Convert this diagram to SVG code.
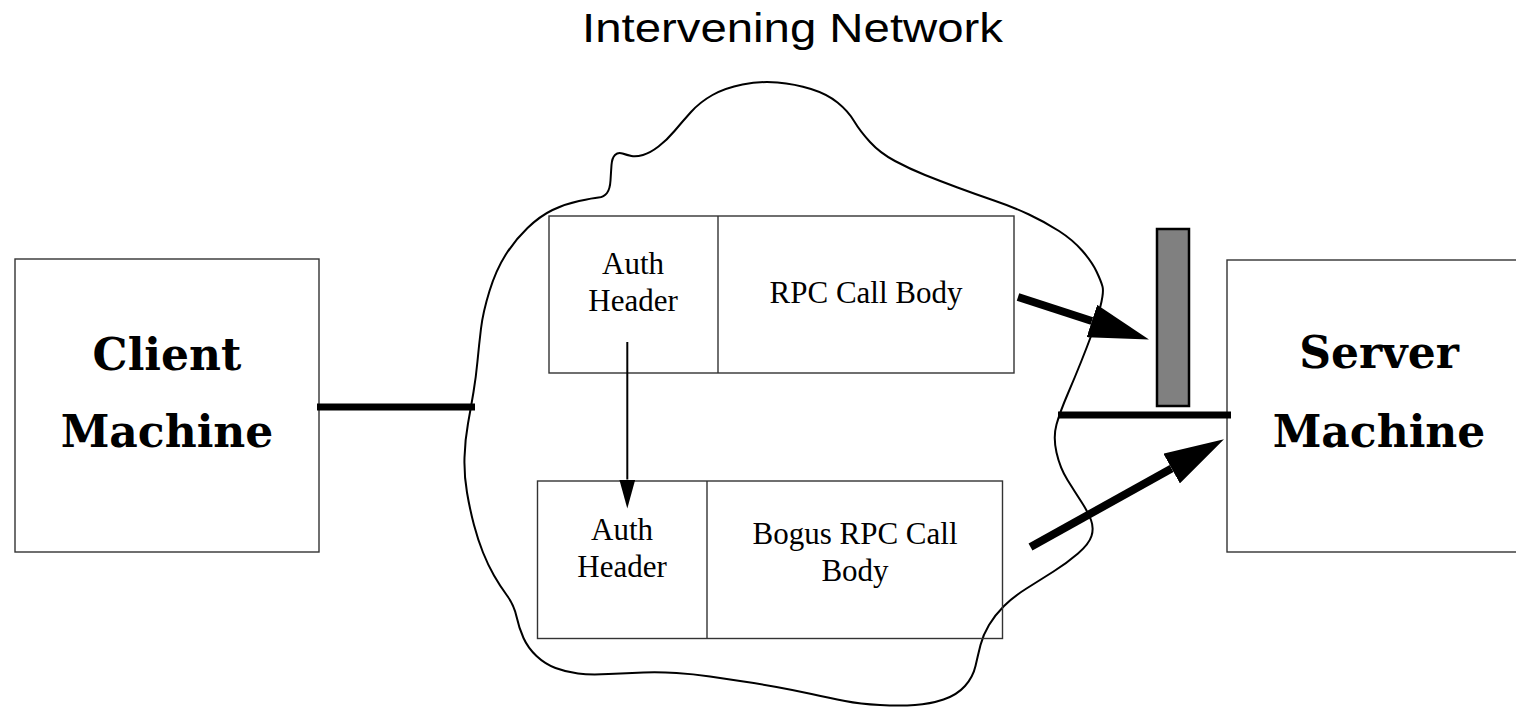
<svg xmlns="http://www.w3.org/2000/svg" width="1516" height="707" viewBox="0 0 1516 707">
  <style>
    .box { fill: none; stroke: #333; stroke-width: 1.4; }
    .machine { font-family: "DejaVu Serif", "Liberation Serif", serif; font-weight: bold; font-size: 44px; text-anchor: middle; fill: #000; }
    .pkt { font-family: "Liberation Serif", "Times New Roman", serif; font-size: 31px; text-anchor: middle; fill: #000; }
    .title { font-family: "Liberation Sans", Arial, sans-serif; font-size: 40px; fill: #000; }
    .wire { stroke: #000; stroke-width: 7; fill: none; }
    .cloud { fill: none; stroke: #000; stroke-width: 2; }
    .fat { stroke: #000; stroke-width: 8; fill: none; marker-end: url(#fatHead); }
    .thin { stroke: #000; stroke-width: 2; fill: none; marker-end: url(#thinHead); }
  </style>
  <defs>
    <marker id="fatHead" markerUnits="userSpaceOnUse" viewBox="0 0 60 34" markerWidth="60" markerHeight="34" refX="0" refY="17" orient="auto">
      <path d="M0,0 L60,17 L0,34 Z" fill="#000"/>
    </marker>
    <marker id="thinHead" markerUnits="userSpaceOnUse" viewBox="0 0 29 16" markerWidth="29" markerHeight="16" refX="0" refY="8" orient="auto">
      <path d="M0,0 L29,8 L0,16 Z" fill="#000"/>
    </marker>
  </defs>

  <rect width="1516" height="707" fill="#fff"/>

  <text class="title" x="582" y="41.7" textLength="421" lengthAdjust="spacingAndGlyphs">Intervening Network</text>

  <!-- network cloud -->
  <g id="network">
    <path class="cloud" d="M742.5,84.5 Q760,81 777.5,82.5 Q795,84 811,89 Q827,94 837.5,102.5 Q848,111 854,121 Q860,131 870,142 Q880,153 895,161 Q910,169 925,175 Q940,181 957.5,187.5 Q975,194 994,200.5 Q1013,207 1029,214.5 Q1045,222 1059,231 Q1073,240 1082.5,251 Q1092,262 1096.5,271.5 Q1101,281 1102.5,286.5 Q1104,292 1100.5,306 Q1097,320 1092,333.5 Q1087,347 1081,362 Q1075,377 1067.5,394.5 Q1060,412 1056.5,424.5 Q1053,437 1056.5,452.5 Q1060,468 1067.5,480 Q1075,492 1081.5,502 Q1088,512 1091,520 Q1094,528 1091.5,536 Q1089,544 1078,553.5 Q1067,563 1053.5,571.5 Q1040,580 1026.5,588.5 Q1013,597 1004,606 Q995,615 989,625 Q983,635 980.5,645 Q978,655 975.5,666 Q973,677 965,686 Q957,695 943.5,699.5 Q930,704 915,705 Q900,706 880,705 Q860,704 845,701 Q830,698 811.5,694 Q793,690 776.5,687 Q760,684 743.5,681.5 Q727,679 710,676.5 Q693,674 676.5,673 Q660,672 643.5,672.5 Q627,673 608.5,674 Q590,675 578,673.5 Q566,672 555.5,668 Q545,664 536.5,656 Q528,648 523.5,638 Q519,628 516.5,616.5 Q514,605 507,595.5 Q500,586 494,575.5 Q488,565 483,552.5 Q478,540 474,525 Q470,510 467,492.5 Q464,475 464.5,457.5 Q465,440 468,423.5 Q471,407 473.5,392 Q476,377 477.5,361 Q479,345 481,328.5 Q483,312 489.5,291 Q496,270 505.5,255 Q515,240 527.5,228 Q540,216 552.5,210 Q565,204 579,201 Q593,198 598.5,197.5 Q604,197 607,193 Q610,189 610.5,180.5 Q611,172 611.5,165 Q612,158 615,155 Q618,152 622.5,153.5 Q627,155 631.5,156 Q636,157 643,155 Q650,153 658.5,146.5 Q667,140 674.5,131 Q682,122 691,112 Q700,102 712.5,95 Q725,88 742.5,84.5 Z"/>
  </g>

  <!-- client host -->
  <g id="client">
    <rect class="box" x="15" y="259" width="304" height="293"/>
    <text class="machine" x="167" y="370">Client</text>
    <text class="machine" x="167" y="447">Machine</text>
  </g>

  <!-- server host -->
  <g id="server">
    <rect class="box" x="1227" y="260" width="304" height="292"/>
    <text class="machine" x="1379" y="368">Server</text>
    <text class="machine" x="1379" y="447">Machine</text>
  </g>

  <!-- filter in front of the server -->
  <g id="filter">
    <rect x="1157" y="229" width="32" height="177" fill="#808080" stroke="#000" stroke-width="2.5"/>
  </g>

  <!-- genuine request -->
  <g id="genuine-packet">
    <rect class="box" x="549" y="216" width="465" height="157"/>
    <line class="box" x1="718" y1="216" x2="718" y2="373"/>
    <text class="pkt" x="633" y="274">Auth</text>
    <text class="pkt" x="633" y="311">Header</text>
    <text class="pkt" x="866" y="303">RPC Call Body</text>
  </g>

  <!-- forged request reusing the header -->
  <g id="bogus-packet">
    <rect class="box" x="537.5" y="481" width="465" height="157.5"/>
    <line class="box" x1="707" y1="481" x2="707" y2="638.5"/>
    <text class="pkt" x="622" y="540">Auth</text>
    <text class="pkt" x="622" y="577">Header</text>
    <text class="pkt" x="855" y="544">Bogus RPC Call</text>
    <text class="pkt" x="855" y="581">Body</text>
  </g>

  <g id="connectors">
    <line class="wire" x1="317" y1="407" x2="475" y2="407"/>
    <line class="wire" x1="1058" y1="415" x2="1231" y2="415"/>
    <line class="thin" x1="627.3" y1="342" x2="627.3" y2="479.5"/>
    <line class="fat" x1="1018" y1="297" x2="1091.9" y2="321"/>
    <line class="fat" x1="1030.5" y1="547" x2="1171.6" y2="468.5"/>
  </g>
</svg>
